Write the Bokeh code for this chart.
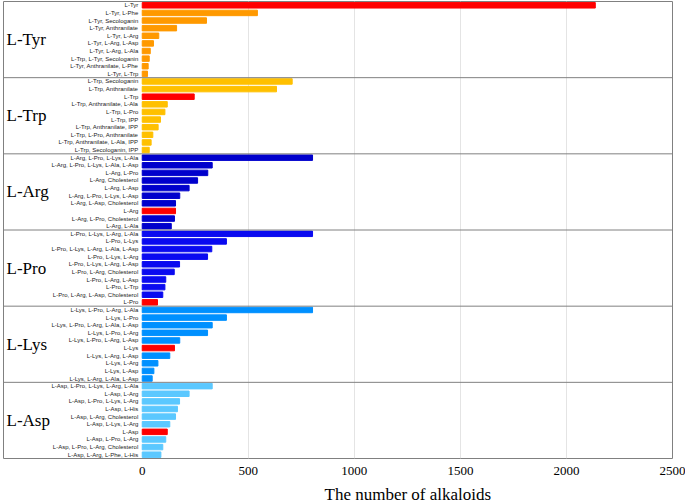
from bokeh.plotting import figure
from bokeh.models import FixedTicker, Span, Title, ColumnDataSource, Range1d
from bokeh.core.properties import value
from bokeh.embed import file_html
from bokeh.resources import INLINE

groups = ["L-Tyr", "L-Trp", "L-Arg", "L-Pro", "L-Lys", "L-Asp"]
group_colors = ["#FF9900", "#FFC000", "#0000CC", "#0A0AF0", "#0090FF", "#5BC8FF"]
highlight_color = "#FF0000"

tyr_labels = ["L-Tyr", "L-Tyr, L-Phe", "L-Tyr, Secologanin", "L-Tyr, Anthranilate", "L-Tyr, L-Arg",
              "L-Tyr, L-Arg, L-Asp", "L-Tyr, L-Arg, L-Ala", "L-Trp, L-Tyr, Secologanin",
              "L-Tyr, Anthranilate, L-Phe", "L-Tyr, L-Trp"]
tyr_values = [2136, 543, 303, 162, 78, 53, 38, 33, 28, 25]

trp_labels = ["L-Trp, Secologanin", "L-Trp, Anthranilate", "L-Trp", "L-Trp, Anthranilate, L-Ala",
              "L-Trp, L-Pro", "L-Trp, IPP", "L-Trp, Anthranilate, IPP", "L-Trp, L-Pro, Anthranilate",
              "L-Trp, Anthranilate, L-Ala, IPP", "L-Trp, Secologanin, IPP"]
trp_values = [707, 633, 245, 118, 107, 86, 75, 50, 42, 33]

arg_labels = ["L-Arg, L-Pro, L-Lys, L-Ala", "L-Arg, L-Pro, L-Lys, L-Ala, L-Asp", "L-Arg, L-Pro",
              "L-Arg, Cholesterol", "L-Arg, L-Asp", "L-Arg, L-Pro, L-Lys, L-Asp",
              "L-Arg, L-Asp, Cholesterol", "L-Arg", "L-Arg, L-Pro, Cholesterol", "L-Arg, L-Ala"]
arg_values = [803, 330, 309, 261, 221, 177, 157, 157, 152, 137]

pro_labels = ["L-Pro, L-Lys, L-Arg, L-Ala", "L-Pro, L-Lys", "L-Pro, L-Lys, L-Arg, L-Ala, L-Asp",
              "L-Pro, L-Lys, L-Arg", "L-Pro, L-Lys, L-Arg, L-Asp", "L-Pro, L-Arg, Cholesterol",
              "L-Pro, L-Arg, L-Asp", "L-Pro, L-Trp", "L-Pro, L-Arg, L-Asp, Cholesterol", "L-Pro"]
pro_values = [803, 397, 328, 308, 176, 151, 111, 107, 97, 72]

lys_labels = ["L-Lys, L-Pro, L-Arg, L-Ala", "L-Lys, L-Pro", "L-Lys, L-Pro, L-Arg, L-Ala, L-Asp",
              "L-Lys, L-Pro, L-Arg", "L-Lys, L-Pro, L-Arg, L-Asp", "L-Lys", "L-Lys, L-Arg, L-Asp",
              "L-Lys, L-Arg", "L-Lys, L-Asp", "L-Lys, L-Arg, L-Ala, L-Asp"]
lys_values = [803, 397, 330, 308, 177, 152, 130, 74, 55, 47]

asp_labels = ["L-Asp, L-Pro, L-Lys, L-Arg, L-Ala", "L-Asp, L-Arg", "L-Asp, L-Pro, L-Lys, L-Arg",
              "L-Asp, L-His", "L-Asp, L-Arg, Cholesterol", "L-Asp, L-Lys, L-Arg", "L-Asp",
              "L-Asp, L-Pro, L-Arg", "L-Asp, L-Pro, L-Arg, Cholesterol", "L-Asp, L-Arg, L-Phe, L-His"]
asp_values = [330, 221, 176, 166, 157, 130, 118, 111, 97, 88]

x_ticks = [0, 500, 1000, 1500, 2000, 2500]
grid_ticks = [500, 1000, 1500, 2000]

all_labels = [tyr_labels, trp_labels, arg_labels, pro_labels, lys_labels, asp_labels]
all_values = [tyr_values, trp_values, arg_values, pro_values, lys_values, asp_values]

n_rows = sum(len(l) for l in all_labels)
labels, vals, ys, colors, zeros = [], [], [], [], []
row = 0
group_y, sep_y = [], []
for g, (lab, vv) in enumerate(zip(all_labels, all_values)):
    start = row
    for l, v in zip(lab, vv):
        labels.append(l)
        vals.append(v)
        ys.append(n_rows - row - 0.5)
        colors.append(highlight_color if l == groups[g] else group_colors[g])
        zeros.append(0)
        row += 1
    group_y.append(n_rows - (start + row) / 2)
    if g > 0:
        sep_y.append(n_rows - start)

src = ColumnDataSource(dict(label=labels, val=vals, y=ys, color=colors, zero=zeros))

x_start = -654
p = figure(frame_width=669, frame_height=457, output_backend="svg", toolbar_location=None,
           x_range=Range1d(x_start, 2500), y_range=Range1d(0, n_rows),
           min_border_left=0, min_border_top=0, min_border_right=13, min_border_bottom=0)
p.margin = (1, 0, 0, 3)

p.hbar(y="y", right="val", left="zero", height=0.72, color="color", source=src)
p.text(x="zero", y="y", text="label", source=src, x_offset=-4, text_align="right",
       text_baseline="middle", text_font_size="6px", text_font=value("Liberation Sans"),
       text_color="#222222")

gsrc = ColumnDataSource(dict(x=[x_start] * len(groups), y=group_y, text=groups))
p.text(x="x", y="y", text="text", source=gsrc, x_offset=3, text_align="left",
       text_baseline="middle", text_font_size="17px", text_font=value("Liberation Serif"),
       text_color="#000000")

for sy in sep_y:
    p.add_layout(Span(location=sy, dimension="width", line_color="#808080", line_width=1))

p.yaxis.visible = False
p.ygrid.visible = False
p.xaxis.ticker = FixedTicker(ticks=x_ticks)
p.xgrid.ticker = FixedTicker(ticks=grid_ticks)
p.xgrid.grid_line_color = "#E4E4E4"
p.xaxis.axis_line_color = None
p.xaxis.major_tick_line_color = None
p.xaxis.minor_tick_line_color = None
p.xaxis.major_label_text_font = "Liberation Serif"
p.xaxis.major_label_text_font_size = "13px"
p.xaxis.major_label_text_color = "#000000"
p.xaxis.major_label_standoff = 2
p.outline_line_color = "#808080"
p.outline_line_width = 1

t = Title(text="The number of alkaloids", align="left", offset=321,
          text_font="Liberation Serif", text_font_size="17px", text_font_style="normal",
          text_color="#000000")
p.add_layout(t, "below")

open("out.html", "w").write(file_html(p, INLINE))
